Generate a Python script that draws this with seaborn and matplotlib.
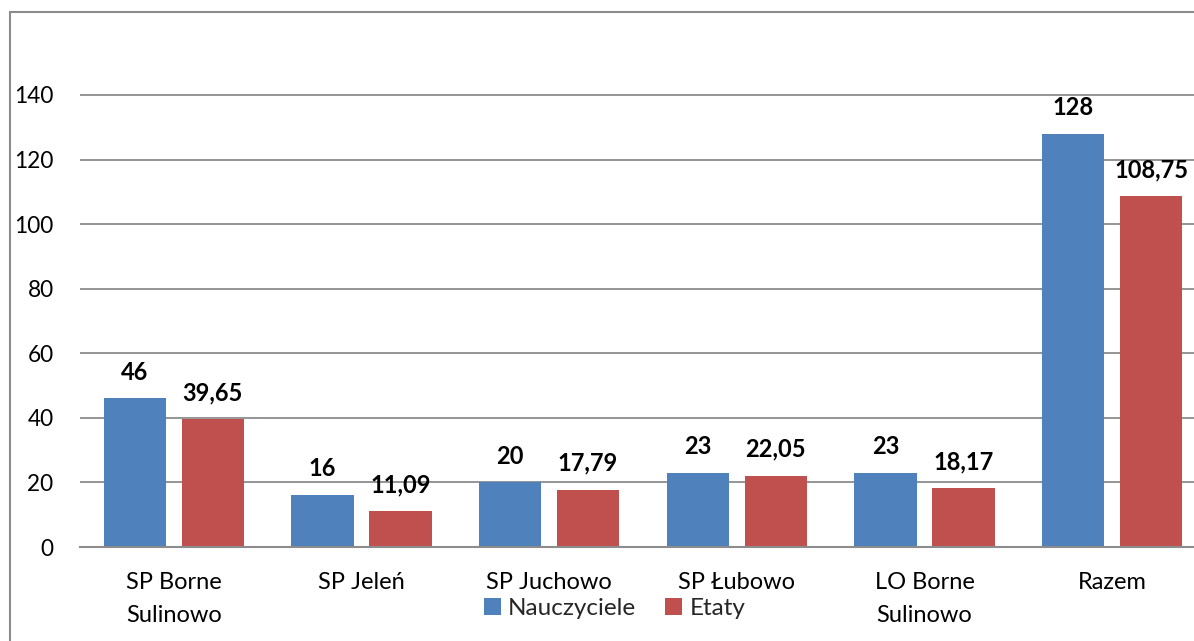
import matplotlib
matplotlib.use("Agg")
import matplotlib.pyplot as plt
import seaborn as sns
import pandas as pd
from matplotlib.patches import Rectangle, Patch

categories = ["SP Borne\nSulinowo", "SP Jeleń", "SP Juchowo", "SP Łubowo", "LO Borne\nSulinowo", "Razem"]
nauczyciele = [46, 16, 20, 23, 23, 128]
etaty = [39.65, 11.09, 17.79, 22.05, 18.17, 108.75]
series_names = ["Nauczyciele", "Etaty"]
colors = ["#4F81BD", "#C0504D"]
yticks = [0, 20, 40, 60, 80, 100, 120, 140]

sns.set_theme(style="white")
plt.rcParams['font.family'] = ['Lato', 'DejaVu Sans']

df = pd.DataFrame({
    "cat": categories * 2,
    "series": [series_names[0]] * len(categories) + [series_names[1]] * len(categories),
    "value": nauczyciele + etaty,
})

fig = plt.figure(figsize=(11.94, 6.41), dpi=100)
ax = fig.add_axes([80 / 1194, (641 - 547) / 641, 1126 / 1194, 516.6 / 641])

sns.barplot(data=df, x="cat", y="value", hue="series", order=categories,
            hue_order=series_names, palette=colors, width=0.83, gap=0.2,
            edgecolor="none", saturation=1, ax=ax, legend=False)

ax.set_ylim(0, 160)
ax.set_xlim(-0.5, len(categories) - 0.5)
ax.set_yticks(yticks)
ax.set_yticklabels([str(t) for t in yticks], fontsize=16.3, color="black")
ax.tick_params(axis='y', length=0, pad=19)
ax.tick_params(axis='x', length=0, pad=18, labelsize=17, labelcolor="black")
for lbl in ax.get_xticklabels():
    lbl.set_linespacing(1.68)
    lbl.set_va("top")
ax.set_xlabel("")
ax.set_ylabel("")
for t in yticks[1:]:
    ax.axhline(t, color="#8C8C8C", lw=1.3, zorder=0)
ax.set_axisbelow(True)
for s in ["top", "right", "left"]:
    ax.spines[s].set_visible(False)
ax.spines["bottom"].set_color("#8C8C8C")
ax.spines["bottom"].set_linewidth(1.5)
ax.patch.set_alpha(0)

def fmt(v):
    if float(v).is_integer():
        return str(int(v))
    return f"{v:.2f}".replace(".", ",")

for container in ax.containers:
    for bar in container:
        h = bar.get_height()
        ax.annotate(fmt(h), (bar.get_x() + bar.get_width() / 2, h),
                    xytext=(0, 19), textcoords="offset points",
                    ha="center", va="center", fontsize=17, fontweight="bold",
                    color="black", annotation_clip=False)

handles = [Patch(facecolor=c, edgecolor="none") for c in colors]
fig.legend(handles, series_names, loc="center left", bbox_to_anchor=(0.405, 0.05),
           ncol=2, frameon=False, fontsize=17.5, handlelength=0.7, handleheight=0.7,
           handletextpad=0.3, columnspacing=1.2, borderaxespad=0, borderpad=0)

fig.patches.append(Rectangle((10 / 1194, -0.1), 1.2, 1 - 12 / 641 + 0.1,
                             transform=fig.transFigure, fill=False,
                             edgecolor="#8C8C8C", lw=1.5))

fig.savefig("out.png", dpi=100)
